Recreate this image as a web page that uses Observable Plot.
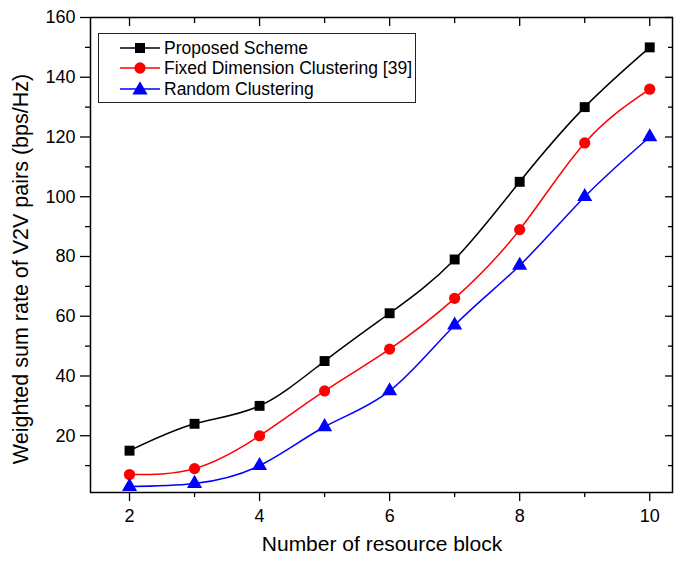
<!DOCTYPE html>
<html>
<head>
<meta charset="utf-8">
<script src="https://cdn.jsdelivr.net/npm/d3@7"></script>
<script src="https://cdn.jsdelivr.net/npm/@observablehq/plot@0.6"></script>
<style>
  html, body { margin: 0; padding: 0; background: #fff; }
  #wrap { position: relative; width: 674px; height: 561px; font-family: "Liberation Sans", Arial, sans-serif; }
  #legend { position: absolute; left: 98px; top: 33px; width: 318px; height: 70px; border: 1px solid #222; background: #fff; box-sizing: border-box; }
  .row { position: absolute; left: 0; height: 20px; display: flex; align-items: center; }
  .row svg { display: block; }
  .row span { font-size: 17.5px; color: #000; margin-left: 3px; white-space: nowrap; }
</style>
</head>
<body>
<div id="wrap"></div>
<script>
const resourceBlocks = [2, 3, 4, 5, 6, 7, 8, 9, 10];
const proposedScheme = [15, 24, 30, 45, 61, 79, 105, 130, 150];
const fixedDimension = [7, 9, 20, 35, 49, 66, 89, 118, 136];
const randomClustering = [3, 4, 10, 23, 35, 57, 77, 100, 120];
const seriesNames = ["Proposed Scheme", "Fixed Dimension Clustering [39]", "Random Clustering"];
const seriesColors = ["#000000", "#ff0000", "#0000ff"];
const seriesSymbols = ["square", "circle", "triangle"];
const xMajorTicks = [2, 4, 6, 8, 10];
const xMinorTicks = [3, 5, 7, 9];
const yMajorTicks = [20, 40, 60, 80, 100, 120, 140, 160];
const yMinorTicks = [10, 30, 50, 70, 90, 110, 130, 150];
const xLabel = "Number of resource block";
const yLabel = "Weighted sum rate of V2V pairs (bps/Hz)";

const allValues = [proposedScheme, fixedDimension, randomClustering];
const rows = [];
allValues.forEach((vals, si) => vals.forEach((v, i) => rows.push({x: resourceBlocks[i], y: v, s: seriesNames[si]})));

const blank = () => "";
const chart = Plot.plot({
  width: 674,
  height: 561,
  marginLeft: 90,
  marginRight: 2,
  marginTop: 17,
  marginBottom: 69,
  style: {fontFamily: "'Liberation Sans', Arial, sans-serif", fontSize: "18px", color: "#000", background: "#fff", overflow: "visible"},
  x: {domain: [1.4, 10.35], label: null},
  y: {domain: [1, 160], label: null},
  color: {domain: seriesNames, range: seriesColors},
  symbol: {domain: seriesNames, range: seriesSymbols},
  marks: [
    Plot.axisX(xMajorTicks, {anchor: "bottom", tickSize: 9, tickPadding: 8, fontSize: 18, strokeWidth: 1.3, label: null}),
    Plot.axisX(xMinorTicks, {anchor: "bottom", tickSize: 5, tickFormat: blank, strokeWidth: 1.3, label: null}),
    Plot.axisX(xMajorTicks, {anchor: "top", tickSize: -8, tickFormat: blank, strokeWidth: 1.3, label: null}),
    Plot.axisX(xMinorTicks, {anchor: "top", tickSize: -5, tickFormat: blank, strokeWidth: 1.3, label: null}),
    Plot.axisY(yMajorTicks, {anchor: "left", tickSize: 10, tickPadding: 5, fontSize: 18, strokeWidth: 1.3, label: null}),
    Plot.axisY(yMinorTicks, {anchor: "left", tickSize: 5, tickFormat: blank, strokeWidth: 1.3, label: null}),
    Plot.axisY(yMajorTicks, {anchor: "right", tickSize: -8, tickFormat: blank, strokeWidth: 1.3, label: null}),
    Plot.axisY(yMinorTicks, {anchor: "right", tickSize: -5, tickFormat: blank, strokeWidth: 1.3, label: null}),
    Plot.frame({stroke: "#000", strokeWidth: 1.5}),
    Plot.line(rows, {x: "x", y: "y", z: "s", stroke: "s", strokeWidth: 1.5, curve: "natural"}),
    Plot.dot(rows, {x: "x", y: "y", symbol: "s", fill: "s", stroke: null, r: 5.6})
  ]
});

const wrap = document.getElementById("wrap");
wrap.appendChild(chart);

// axis titles as SVG text
const svg = d3.select(chart);
svg.append("text")
  .attr("x", 382).attr("y", 551)
  .attr("text-anchor", "middle")
  .attr("font-size", 21)
  .attr("fill", "#000")
  .text(xLabel);
svg.append("text")
  .attr("transform", "translate(28,269) rotate(-90)")
  .attr("text-anchor", "middle")
  .attr("font-size", 21.5)
  .attr("fill", "#000")
  .text(yLabel);

// legend
const legend = document.createElement("div");
legend.id = "legend";
const rowTops = [4, 24, 45];
seriesNames.forEach((name, i) => {
  const r = document.createElement("div");
  r.className = "row";
  r.style.top = rowTops[i] + "px";
  r.style.left = "20px";
  const sym = d3.symbol(i === 0 ? d3.symbolSquare : i === 1 ? d3.symbolCircle : d3.symbolTriangle, 100)();
  r.innerHTML = `<svg width="42" height="20"><line x1="1" y1="10" x2="41" y2="10" stroke="${seriesColors[i]}" stroke-width="1.5"/><path d="${sym}" transform="translate(21,${i === 2 ? 11 : 10})" fill="${seriesColors[i]}"/></svg><span>${name}</span>`;
  legend.appendChild(r);
});
wrap.appendChild(legend);
</script>
</body>
</html>
